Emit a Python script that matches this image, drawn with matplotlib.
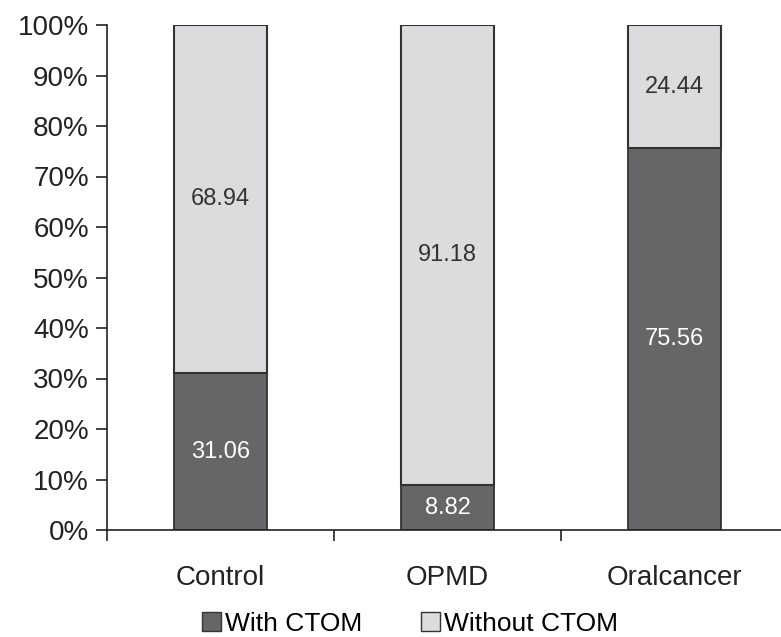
import matplotlib.pyplot as plt
from matplotlib.patches import Patch

plt.rcParams['font.family'] = ['Liberation Sans', 'DejaVu Sans']

groups = ['Control', 'OPMD', 'Oralcancer']
with_ctom = [31.06, 8.82, 75.56]
without_ctom = [68.94, 91.18, 24.44]
yticks = [0, 10, 20, 30, 40, 50, 60, 70, 80, 90, 100]

dark = '#666668'
light = '#dcdcde'
edge = '#333333'

fig = plt.figure(figsize=(7.81, 6.37), dpi=100)
ax = fig.add_axes([107 / 781, 107 / 637, 681 / 781, 505 / 637])

x = list(range(len(groups)))
w = 0.41
ax.bar(x, with_ctom, width=w, color=dark, edgecolor=edge, linewidth=1.3)
ax.bar(x, without_ctom, width=w, bottom=with_ctom, color=light, edgecolor=edge, linewidth=1.5)

for i in x:
    ax.text(i, with_ctom[i] / 2, f'{with_ctom[i]:.2f}', ha='center', va='center',
            color='white', fontsize=17)
    ax.text(i, with_ctom[i] + without_ctom[i] / 2, f'{without_ctom[i]:.2f}',
            ha='center', va='center', color='#333333', fontsize=17)

ax.set_xlim(-0.5, 2.5)
ax.set_ylim(0, 100)
ax.set_yticks(yticks)
ax.set_yticklabels([f'{t}%' for t in yticks])
ax.set_xticks(x)
ax.set_xticklabels(groups)
ax.set_xticks([-0.5, 0.5, 1.5, 2.5], minor=True)

ax.tick_params(axis='x', which='major', length=0, pad=25, labelsize=20, colors='#222222')
ax.tick_params(axis='x', which='minor', length=8, width=1.2, color='#222222')
ax.tick_params(axis='y', length=8, width=1.2, pad=5, labelsize=20, colors='#222222')

for s in ['top', 'right']:
    ax.spines[s].set_visible(False)
for s in ['left', 'bottom']:
    ax.spines[s].set_linewidth(1.2)
    ax.spines[s].set_color('#222222')

handles = [Patch(facecolor=dark, edgecolor=edge, linewidth=1.0, label='With CTOM'),
           Patch(facecolor=light, edgecolor=edge, linewidth=1.0, label='Without CTOM')]
fig.legend(handles=handles, loc='center', bbox_to_anchor=(410 / 781, 13 / 637), ncol=2,
           frameon=False, fontsize=19, handlelength=0.75, handleheight=0.75,
           handletextpad=0.15, columnspacing=2.2, borderaxespad=0, borderpad=0)

fig.savefig('out.png', dpi=100)
